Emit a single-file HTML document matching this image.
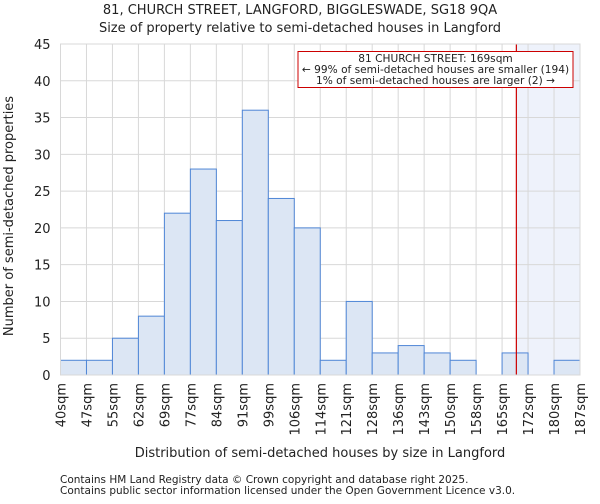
<!DOCTYPE html>
<html><head><meta charset="utf-8"><style>
body{margin:0;background:#fff;font-family:"DejaVu Sans","Liberation Sans",sans-serif}
text{font-family:"DejaVu Sans","Liberation Sans",sans-serif;fill:#222}
</style></head><body>
<svg id="c" width="600" height="500" xmlns="http://www.w3.org/2000/svg"></svg>
<script>
const labels=["40sqm","47sqm","55sqm","62sqm","69sqm","77sqm","84sqm","91sqm","99sqm","106sqm","114sqm","121sqm","128sqm","136sqm","143sqm","150sqm","158sqm","165sqm","172sqm","180sqm","187sqm"];
const counts=[2,2,5,8,22,28,21,36,24,20,2,10,3,4,3,2,0,3,0,2];
const yTicks=[0,5,10,15,20,25,30,35,40,45];
const markerBin=17.55;
const L=60.5,R=580,T=44,B=375,yMax=45;
const bw=(R-L)/counts.length;
const x=i=>L+i*bw, y=v=>B-(B-T)*v/yMax;
const s=document.getElementById('c'),NS="http://www.w3.org/2000/svg";
function mk(t,a,txt){const e=document.createElementNS(NS,t);for(const k in a)e.setAttribute(k,a[k]);if(txt!==undefined)e.textContent=txt;s.appendChild(e);return e;}
let e;
e=mk('rect',{x:L,y:T,width:R-L,height:B-T,fill:'#fff'});


const mx=x(markerBin);
e=mk('rect',{x:mx,y:T,width:R-mx,height:B-T,fill:'#eef2fb'});


yTicks.forEach(v=>{e=mk('line',{x1:L,x2:R,y1:y(v),y2:y(v),stroke:'#d8d8d8'});


e=mk('text',{x:L-10,y:y(v)+5,'text-anchor':'end','font-size':13},v);

});
labels.forEach((l,i)=>{e=mk('line',{x1:x(i),x2:x(i),y1:T,y2:B,stroke:'#d8d8d8'});


e=mk('text',{x:0,y:0,'text-anchor':'end','font-size':13,transform:`translate(${x(i)+5},${B+8}) rotate(-90)`},l);

});
counts.forEach((v,i)=>{if(v<=0)return;e=mk('rect',{x:x(i),y:y(v),width:bw,height:B-y(v),fill:'#dce6f4',stroke:'#4f86d6','stroke-width':1});

});
e=mk('line',{x1:mx,x2:mx,y1:T,y2:B,stroke:'#cc0000','stroke-width':1.2});


e=mk('rect',{x:298,y:51.5,width:275,height:36,fill:'#fff',stroke:'#cc0000'});


["81 CHURCH STREET: 169sqm","← 99% of semi-detached houses are smaller (194)","1% of semi-detached houses are larger (2) →"].forEach((t,i)=>{e=mk('text',{x:435.5,y:62+i*11,'text-anchor':'middle','font-size':10.6},t);

});
e=mk('rect',{x:L,y:T,width:R-L,height:B-T,fill:'none',stroke:'#d8d8d8'});


e=mk('text',{x:300,y:14,'text-anchor':'middle','font-size':13},"81, CHURCH STREET, LANGFORD, BIGGLESWADE, SG18 9QA");


e=mk('text',{x:300,y:32,'text-anchor':'middle','font-size':13},"Size of property relative to semi-detached houses in Langford");


e=mk('text',{x:0,y:0,'text-anchor':'middle','font-size':13,transform:'translate(13,216) rotate(-90)'},"Number of semi-detached properties");


e=mk('text',{x:320,y:457,'text-anchor':'middle','font-size':13},"Distribution of semi-detached houses by size in Langford");


e=mk('text',{x:60,y:483,'font-size':10.5,fill:'#444'},"Contains HM Land Registry data © Crown copyright and database right 2025.");


e=mk('text',{x:60,y:494,'font-size':10.5,fill:'#444'},"Contains public sector information licensed under the Open Government Licence v3.0.");


</script>
</body></html>
